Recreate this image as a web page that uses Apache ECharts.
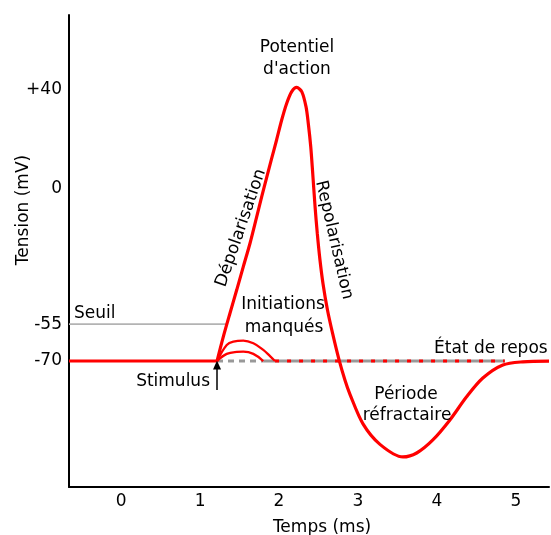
<!DOCTYPE html>
<html>
<head>
<meta charset="utf-8">
<script src="https://cdn.jsdelivr.net/npm/echarts@6/dist/echarts.min.js"></script>
<style>
html,body{margin:0;padding:0;background:#fff;}
#c{width:551px;height:535px;}
</style>
</head>
<body>
<div id="c"></div>
<script>
// ---- data (time in ms, voltage in mV) ----
const xTicks = [0, 1, 2, 3, 4, 5];
const yTicks = [-70, -55, 0, 40];
const restTime = [-0.66, 1.215];
const restVoltage = [-70, -70];
const apTime = [1.215, 1.295, 1.379, 1.464, 1.548, 1.633, 1.718, 1.781, 1.845, 1.908, 1.971, 2.034, 2.098, 2.161, 2.224, 2.288, 2.342, 2.371, 2.402, 2.427, 2.457, 2.485, 2.519, 2.557, 2.614, 2.679, 2.755, 2.836, 2.899, 3.064, 3.279, 3.570, 3.744, 3.949, 4.165, 4.376, 4.582, 4.835, 5.089, 5.42];
const apVoltage = [-70, -60.1, -50.6, -41.2, -31.7, -22.2, -11.4, -3.3, 4.6, 12.3, 19.9, 27.8, 34.6, 39.3, 41.0, 39.3, 33.2, 26.4, 17.0, 6.2, -7.4, -18.2, -29.0, -38.5, -49.3, -58.8, -68.8, -77.8, -83.5, -95.5, -103.8, -108.9, -107.3, -102, -93.9, -84.5, -76.9, -71.6, -70.3, -70];
const bump1Time = [1.215, 1.338, 1.422, 1.548, 1.675, 1.801, 1.886, 1.949];
const bump1Voltage = [-70, -63.5, -62.1, -61.7, -62.8, -65.5, -68.0, -70];
const bump2Time = [1.215, 1.338, 1.465, 1.548, 1.675, 1.801];
const bump2Voltage = [-70, -67.1, -66.3, -66.2, -67.1, -70];
const seuilTime = [-0.66, 1.342];
const seuilVoltage = [-55, -55];
const reposDashedTime = [1.215, 1.80];
const reposSolidTime = [1.80, 4.86];
const reposDotTime = [1.95, 4.86];
const reposVoltage = -70;
const stimulusTime = 1.215;
const stimulusVoltage = [-81.7, -71.6];

const zip = (xs, ys) => xs.map((x, i) => [x, Array.isArray(ys) ? ys[i] : ys]);
const FONT = 'DejaVu Sans';
const RED = '#ff0000';

const chart = echarts.init(document.getElementById('c'), null, {renderer: 'canvas'});
const txt = (text, x, y, align, extra) => Object.assign({
  type: 'text', x: x, y: y, z: 100,
  style: {text: text, x: 0, y: 0, fill: '#000', font: '17px "' + FONT + '"', align: align || 'center', verticalAlign: 'middle'}
}, extra || {});

chart.setOption({
  animation: false,
  backgroundColor: '#fff',
  grid: {left: 69, right: 2, top: 15, bottom: 48, containLabel: false, outerBoundsMode: 'none'},
  xAxis: {
    type: 'value', min: -0.66, max: 5.42,
    name: 'Temps (ms)', nameLocation: 'middle', nameGap: 32, nameMoveOverlap: false,
    nameTextStyle: {color: '#000', fontFamily: FONT, fontSize: 17, padding: [0, 0, 0, 26]},
    axisLine: {onZero: false, lineStyle: {color: '#000', width: 2}},
    axisTick: {show: false},
    splitLine: {show: false},
    axisLabel: {customValues: xTicks, color: '#000', fontFamily: FONT, fontSize: 17, margin: 6}
  },
  yAxis: {
    type: 'value', min: -121.1, max: 70.4,
    name: 'Tension (mV)', nameLocation: 'middle', nameGap: 37, nameMoveOverlap: false,
    nameTextStyle: {color: '#000', fontFamily: FONT, fontSize: 17, padding: [0, 0, 0, 82]},
    axisLine: {onZero: false, lineStyle: {color: '#000', width: 2}},
    axisTick: {show: false},
    splitLine: {show: false},
    axisLabel: {customValues: yTicks, color: '#000', fontFamily: FONT, fontSize: 17, margin: 7,
      formatter: v => (v > 0 ? '+' + v : String(v))}
  },
  series: [
    {name: 'Seuil', type: 'line', data: zip(seuilTime, seuilVoltage), symbol: 'none', silent: true,
      lineStyle: {color: '#b3b3b3', width: 1.6}, z: 1},
    {name: 'Repos pointillé', type: 'line', data: zip(reposDashedTime, reposVoltage), symbol: 'none', silent: true,
      lineStyle: {color: '#999999', width: 3, type: [6, 5]}, z: 1},
    {name: 'Repos gris', type: 'line', data: zip(reposSolidTime, reposVoltage), symbol: 'none', silent: true,
      lineStyle: {color: '#999999', width: 3}, z: 1},
    {name: 'Repos rouge', type: 'line', data: zip(reposDotTime, reposVoltage), symbol: 'none', silent: true,
      lineStyle: {color: RED, width: 3, type: [4, 8]}, z: 2},
    {name: 'Initiation 1', type: 'line', data: zip(bump1Time, bump1Voltage), symbol: 'none', smooth: 0.4, silent: true,
      lineStyle: {color: RED, width: 2.3}, z: 3},
    {name: 'Initiation 2', type: 'line', data: zip(bump2Time, bump2Voltage), symbol: 'none', smooth: 0.4, silent: true,
      lineStyle: {color: RED, width: 2.3}, z: 3},
    {name: 'Repos', type: 'line', data: zip(restTime, restVoltage), symbol: 'none', silent: true,
      lineStyle: {color: RED, width: 3}, z: 4},
    {name: "Potentiel d'action", type: 'line', data: zip(apTime, apVoltage), symbol: 'none', smooth: 0.3, silent: true,
      lineStyle: {color: RED, width: 3.2}, z: 5,
      markLine: {
        silent: true, symbol: ['none', 'triangle'], symbolSize: [8, 9],
        label: {show: false},
        lineStyle: {color: '#000', width: 1.5, type: 'solid'},
        data: [[{coord: [stimulusTime, stimulusVoltage[0]]}, {coord: [stimulusTime, stimulusVoltage[1]]}]]
      }}
  ],
  graphic: [
    txt('Potentiel', 297, 48),
    txt("d'action", 297, 70),
    txt('Dépolarisation', 241, 228, 'center', {rotation: 71 * Math.PI / 180}),
    txt('Repolarisation', 334, 240, 'center', {rotation: -77 * Math.PI / 180}),
    txt('Seuil', 74, 314, 'left'),
    txt('Initiations', 283, 305),
    txt('manqués', 284, 328),
    txt('Stimulus', 210, 382, 'right'),
    txt('État de repos', 434, 349, 'left'),
    txt('Période', 406, 395),
    txt('réfractaire', 407, 416)
  ]
});
</script>
</body>
</html>
